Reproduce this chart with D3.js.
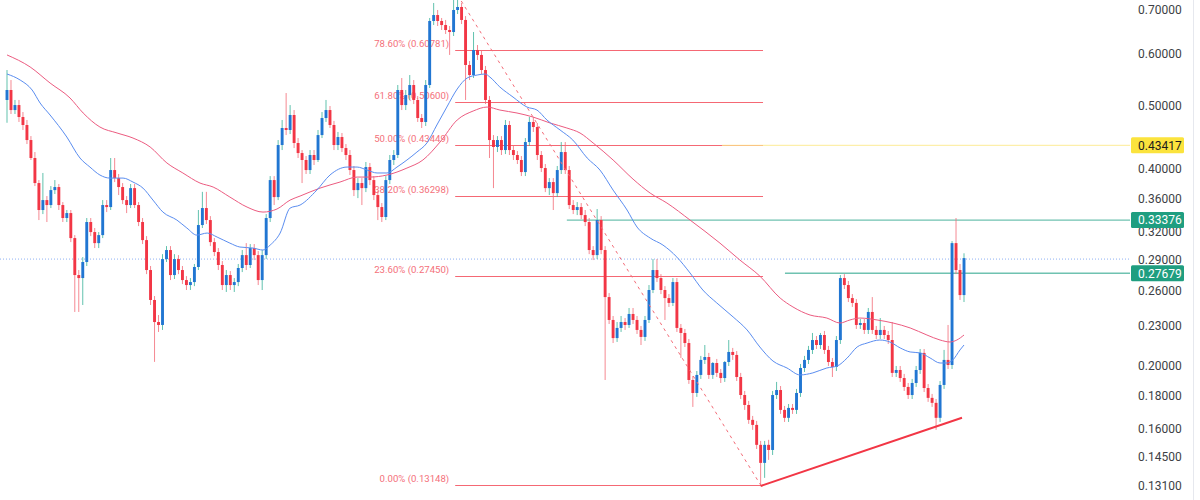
<!DOCTYPE html>
<html><head><meta charset="utf-8">
<script src="https://cdn.jsdelivr.net/npm/d3@7"></script>
<style>html,body{margin:0;padding:0;background:#fff;}svg{display:block;}</style>
</head><body>
<svg id="chart" width="1200" height="500"></svg>
<script>
// ---------------- data ----------------
const open = [.5092,.5274,.4915,.5002,.4796,.4663,.4423,.4152,.3802,.3458,
.3581,.3519,.3709,.3749,.3519,.3362,.3421,.3133,.2751,.2722,
.2880,.3315,.3200,.3078,.3166,.3519,.3494,.3980,.3869,.3749,
.3581,.3519,.3735,.3519,.3315,.3111,.2800,.2520,.2332,.2308,
.2910,.3004,.2751,.2910,.2800,.2703,.2656,.2684,.2830,.3280,
.3482,.3338,.3089,.2983,.2850,.2656,.2751,.2656,.2684,.2820,
.2951,.2850,.3025,.2951,.2703,.2951,.3362,.3842,.3619,.4346,
.4614,.4582,.4830,.4377,.4225,.4123,.3980,.4196,.4123,.4501,
.4779,.4915,.4663,.4346,.4470,.4300,.4196,.3980,.3709,.3802,
.3735,.4022,.3842,.3645,.3494,.3374,.3842,.4123,.4196,.5274,
.5002,.5181,.5367,.5092,.4779,.4713,.5367,.6723,.6865,.6723,
.6628,.6513,.6467,.6988,.7062,.6747,.5759,.5559,.6071,.5966,
.5658,.5092,.4423,.4316,.4423,.4270,.4663,.4270,.4196,.4123,
.3952,.4392,.4713,.4630,.4196,.4008,.3735,.3815,.3670,.3980,
.4240,.3980,.3519,.3458,.3494,.3397,.3315,.3004,.2951,.3338,
.3004,.2546,.2349,.2204,.2284,.2332,.2308,.2399,.2349,.2268,
.2213,.2349,.2610,.2800,.2722,.2610,.2537,.2494,.2684,.2284,
.2244,.2166,.1902,.1817,.1936,.2041,.2062,.1936,.2019,.1950,
.1915,.2026,.2099,.2077,.1922,.1804,.1742,.1653,.1624,.1514,
.1421,.1514,.1487,.1804,.1836,.1712,.1665,.1724,.1712,.1817,
.1984,.2041,.2114,.2189,.2151,.2228,.2114,.2026,.1991,.2189,
.2722,.2656,.2537,.2494,.2308,.2324,.2268,.2416,.2268,.2228,
.2268,.2228,.2189,.1950,.1970,.1915,.1856,.1804,.1882,.1970,
.2092,.1849,.1786,.1755,.1665,.1869,.2041,.2005,.3078,.2800,
.2564];
const high = [.5658,.5462,.5092,.5092,.4881,.4746,.4485,.4240,.3842,.3939,
.3632,.3762,.3842,.3789,.3556,.3458,.3458,.3166,.2800,.2930,
.3362,.3362,.3246,.3200,.3581,.3581,.4152,.4152,.3925,.3802,
.3632,.3789,.3789,.3556,.3362,.3155,.2840,.2555,.2390,.2961,
.3046,.3046,.2961,.2951,.2840,.2741,.2722,.2860,.3458,.3686,
.3686,.3385,.3133,.3025,.2890,.2800,.2790,.2722,.2860,.3004,
.3078,.3068,.3068,.2993,.3004,.3409,.3896,.3896,.4423,.4746,
.5218,.5002,.4915,.4454,.4270,.4181,.4270,.4270,.4582,.4881,
.5092,.4985,.4730,.4550,.4534,.4361,.4270,.4037,.3869,.3869,
.4094,.4080,.3896,.3696,.3544,.3896,.4196,.4270,.5367,.5501,
.5274,.5559,.5462,.5163,.4847,.5462,.6794,.7162,.6988,.6794,
.6747,.6605,.7314,.7365,.7162,.6841,.5840,.6467,.6178,.6071,
.5739,.5163,.4501,.4485,.4485,.4746,.4730,.4331,.4255,.4181,
.4454,.4796,.4796,.4696,.4255,.4065,.3869,.3869,.4037,.4392,
.4392,.4037,.3581,.3556,.3544,.3458,.3362,.3046,.3470,.3385,
.3046,.2582,.2382,.2332,.2382,.2365,.2450,.2450,.2382,.2300,
.2382,.2656,.2910,.2910,.2760,.2646,.2573,.2722,.2722,.2316,
.2276,.2197,.1929,.1963,.2070,.2151,.2092,.2026,.2048,.1977,
.2033,.2189,.2129,.2106,.1950,.1830,.1767,.1676,.1647,.1535,
.1535,.1541,.1830,.1889,.1862,.1736,.1748,.1748,.1843,.2012,
.2070,.2144,.2244,.2220,.2244,.2260,.2144,.2055,.2220,.2751,
.2760,.2694,.2573,.2528,.2357,.2357,.2450,.2546,.2300,.2365,
.2300,.2260,.2332,.1998,.1998,.1943,.1882,.1909,.1998,.2121,
.2121,.1875,.1811,.1779,.1895,.2114,.2308,.3100,.3362,.2860,
.2970];
const low = [.4700,.4847,.4847,.4713,.4582,.4361,.4123,.3762,.3338,.3409,
.3315,.3482,.3658,.3458,.3315,.3315,.3089,.2416,.2416,.2476,
.2840,.3155,.3025,.3025,.3133,.3433,.3458,.3815,.3645,.3531,
.3421,.3482,.3482,.3268,.3068,.2760,.2476,.2027,.2252,.2268,
.2880,.2703,.2713,.2760,.2665,.2610,.2610,.2646,.2800,.3246,
.3292,.3046,.2941,.2800,.2610,.2592,.2610,.2592,.2646,.2780,
.2800,.2820,.2900,.2656,.2610,.2910,.3315,.3519,.3581,.4270,
.4501,.4517,.4300,.4152,.3802,.3925,.3925,.4051,.4094,.4454,
.4713,.4614,.4270,.4270,.4240,.4123,.3911,.3632,.3606,.3519,
.3683,.3775,.3581,.3338,.3315,.3338,.3789,.4051,.4152,.4915,
.4915,.5092,.5020,.4713,.4614,.4647,.5311,.6628,.6605,.6513,
.6422,.5966,.6377,.6890,.6651,.5092,.5462,.5501,.5861,.5579,
.5020,.4152,.3735,.4240,.4196,.4210,.4196,.4123,.4065,.3897,
.3897,.4331,.4550,.4123,.3952,.3683,.3645,.3458,.3619,.3925,
.3925,.3470,.3409,.3397,.3350,.3268,.2961,.2900,.2910,.2961,
.1902,.2316,.2166,.2174,.2252,.2268,.2284,.2316,.2236,.2151,
.2182,.2324,.2582,.2684,.2573,.2349,.2459,.2467,.2252,.2055,
.2136,.1876,.1730,.1792,.1909,.2012,.1909,.1909,.1922,.1882,
.1889,.1998,.2041,.1895,.1779,.1712,.1630,.1596,.1492,.1310,
.1348,.1436,.1461,.1779,.1688,.1641,.1641,.1688,.1688,.1792,
.1956,.2012,.2084,.2121,.2121,.2084,.1998,.1922,.1963,.2159,
.2619,.2502,.2459,.2276,.2276,.2236,.2236,.2236,.2197,.2197,
.2197,.2159,.1922,.1922,.1889,.1830,.1779,.1779,.1856,.1943,
.1823,.1761,.1730,.1596,.1641,.1843,.1977,.1977,.2760,.2520,
.2502];
const close = [.5274,.4915,.5002,.4796,.4663,.4423,.4152,.3802,.3458,.3581,
.3519,.3709,.3749,.3519,.3362,.3421,.3133,.2751,.2722,.2880,
.3315,.3200,.3078,.3166,.3519,.3494,.3980,.3869,.3749,.3581,
.3519,.3735,.3519,.3315,.3111,.2800,.2520,.2332,.2308,.2910,
.3004,.2751,.2910,.2800,.2703,.2656,.2684,.2830,.3280,.3482,
.3338,.3089,.2983,.2850,.2656,.2751,.2656,.2684,.2820,.2951,
.2850,.3025,.2951,.2703,.2951,.3362,.3842,.3619,.4346,.4614,
.4582,.4830,.4377,.4225,.4123,.3980,.4196,.4123,.4501,.4779,
.4915,.4663,.4346,.4470,.4300,.4196,.3980,.3709,.3802,.3735,
.4022,.3842,.3645,.3494,.3374,.3842,.4123,.4196,.5274,.5002,
.5181,.5367,.5092,.4779,.4713,.5367,.6723,.6865,.6723,.6628,
.6513,.6467,.6988,.7062,.6747,.5759,.5559,.6071,.5966,.5658,
.5092,.4423,.4316,.4423,.4270,.4663,.4270,.4196,.4123,.3952,
.4392,.4713,.4630,.4196,.4008,.3735,.3815,.3670,.3980,.4240,
.3980,.3519,.3458,.3494,.3397,.3315,.3004,.2951,.3338,.3004,
.2546,.2349,.2204,.2284,.2332,.2308,.2399,.2349,.2268,.2213,
.2349,.2610,.2800,.2722,.2610,.2537,.2494,.2684,.2284,.2244,
.2166,.1902,.1817,.1936,.2041,.2062,.1936,.2019,.1950,.1915,
.2026,.2099,.2077,.1922,.1804,.1742,.1653,.1624,.1514,.1421,
.1514,.1487,.1804,.1836,.1712,.1665,.1724,.1712,.1817,.1984,
.2041,.2114,.2189,.2151,.2228,.2114,.2026,.1991,.2189,.2722,
.2656,.2537,.2494,.2308,.2324,.2268,.2416,.2268,.2228,.2268,
.2228,.2189,.1950,.1970,.1915,.1856,.1804,.1882,.1970,.2092,
.1849,.1786,.1755,.1665,.1869,.2041,.2005,.3078,.2800,.2564,
.2920];

// moving averages: [candle index, value]
const maFast = [[0,.5579],[3.3,.5462],[6.3,.5274],[8.3,.5038],[10.8,.4830],[15,.4470],[18.3,.4152],[20.8,.4022],[23.3,.3911],[25.8,.3869],[29.1,.3869],[31.6,.3815],[34.1,.3735],[36.6,.3581],[39.1,.3433],[42.6,.3338],[45.1,.3246],[47.6,.3166],[50.2,.3189],[52.7,.3144],[55.9,.3078],[58.4,.3036],[61.7,.3025],[64.2,.3004],[66,.3057],[68.5,.3189],[71,.3482],[73.5,.3519],[77.7,.3709],[81,.3911],[85.3,.4022],[87.8,.4022],[90.3,.3980],[92.8,.3939],[95.3,.3939],[97.8,.4022],[100.3,.4123],[102.8,.4240],[105.3,.4377],[107.8,.4663],[110.3,.4967],[112.9,.5292],[115.4,.5501],[117.9,.5559],[119.9,.5579],[121.1,.5520],[123.6,.5330],[126.9,.5145],[130.4,.4967],[132.9,.4915],[135.4,.4746],[138.7,.4582],[141.9,.4423],[145.5,.4152],[148.7,.3980],[152,.3709],[155.5,.3458],[158,.3257],[161.3,.3133],[164.5,.3057],[168,.2930],[171.3,.2771],[174.5,.2610],[178,.2494],[182.1,.2374],[185.6,.2268],[188.8,.2136],[192.1,.2033],[195.6,.1984],[198.9,.1936],[202.1,.1950],[205.6,.1984],[208.2,.1998],[210.7,.2055],[213.2,.2136],[215.7,.2166],[218.9,.2189],[221.4,.2174],[224,.2129],[226.5,.2099],[229,.2092],[231.5,.2055],[234,.2019],[235.7,.2019],[237.2,.2041],[239,.2114],[240,.2151]];
const maSlow = [[0,.5966],[5.8,.5719],[10.8,.5405],[15.8,.5128],[19.1,.4864],[23.3,.4630],[27.6,.4534],[31.6,.4454],[35.9,.4316],[40.1,.4080],[44.1,.3939],[48.4,.3802],[51.7,.3749],[55.9,.3619],[60.2,.3494],[64.2,.3433],[67.7,.3470],[71,.3581],[73.5,.3632],[78.5,.3735],[83.5,.3815],[87.8,.3883],[91,.3883],[95.3,.3911],[100.3,.4008],[104.3,.4123],[108.6,.4392],[112.9,.4746],[116.9,.4898],[120.4,.4967],[123.6,.4915],[127.9,.4864],[131.9,.4796],[136.2,.4696],[140.4,.4614],[143.7,.4534],[147,.4377],[152,.4123],[157,.3855],[161.3,.3670],[165.5,.3544],[171.3,.3338],[178.8,.3078],[183.8,.2900],[188.8,.2741],[193.9,.2537],[197.1,.2459],[201.4,.2390],[205.6,.2365],[208.9,.2324],[211.4,.2349],[213.9,.2365],[218.2,.2349],[222.2,.2324],[226.5,.2284],[230.7,.2228],[234,.2189],[236.5,.2174],[238.2,.2189],[240,.2228]];

const yTicks = [0.70, 0.60, 0.50, 0.40, 0.36, 0.32, 0.29, 0.26, 0.23, 0.20, 0.18, 0.16, 0.145, 0.131];
const fibNames  = ["78.60%", "61.80%", "50.00%", "38.20%", "23.60%", "0.00%"];
const fibValues = [0.60781, 0.50600, 0.43449, 0.36298, 0.27450, 0.13148];
const fibFrom = 112.4, fibTo = 189.6;           // candle index span of the fib lines
const fibSwing = [[113, 0.7365], [189, 0.13148]]; // dashed swing line
const trendLine = [[189, 0.1310], [239.5, 0.1665]];
const levelValues = [0.43417, 0.33376, 0.27679];
const levelFrom   = [179.3, 140.4, 195.1];
const levelKinds  = ["yellow", "green", "green"];
const lastPrice = 0.2910;

// ---------------- drawing ----------------
const W = 1200, H = 500, plotRight = 1130;
const svg = d3.select("#chart");
const n = close.length;
const x = d3.scaleLinear().domain([0, n - 1]).range([7, 964]);
const y = d3.scaleLog().domain([0.131, 0.70]).range([486, 9.5]);

svg.append("rect").attr("width", W).attr("height", H).attr("fill", "#ffffff");
svg.append("line").attr("x1", 1193.5).attr("x2", 1193.5).attr("y1", 0).attr("y2", H)
  .attr("stroke", "#e6e8ee").attr("stroke-width", 1);

// last price dotted line
svg.append("line").attr("x1", 0).attr("x2", plotRight)
  .attr("y1", y(lastPrice)).attr("y2", y(lastPrice))
  .attr("stroke", "#8fb0f3").attr("stroke-width", 1).attr("stroke-dasharray", "1,2");

// fib levels
const fib = svg.append("g");
fibValues.forEach((v, k) => {
  const yy = Math.round(y(v)) + 0.5;
  fib.append("line").attr("x1", x(fibFrom)).attr("x2", x(fibTo)).attr("y1", yy).attr("y2", yy)
    .attr("stroke", "#f23645").attr("stroke-opacity", 0.75).attr("stroke-width", 1);
  fib.append("text").attr("x", x(fibFrom) - 6).attr("y", yy - 3.5)
    .attr("text-anchor", "end").attr("font-family", "Roboto, 'Noto Sans', sans-serif")
    .attr("font-size", 9.6).attr("fill", "#f4707a")
    .text(`${fibNames[k]} (${v.toFixed(5)})`);
});

// horizontal levels
levelValues.forEach((v, k) => {
  const yy = y(v);
  svg.append("line").attr("x1", x(levelFrom[k])).attr("x2", plotRight).attr("y1", yy).attr("y2", yy)
    .attr("stroke", levelKinds[k] === "yellow" ? "#fde98a" : "#3fae97")
    .attr("stroke-opacity", levelKinds[k] === "yellow" ? 0.9 : 0.75)
    .attr("stroke-width", levelKinds[k] === "yellow" ? 1 : 1.4);
});

// candles
const idx = d3.range(n);
const bw = 2.9;
const cg = svg.append("g");
cg.selectAll("line.wick").data(idx).join("line")
  .attr("x1", i => x(i)).attr("x2", i => x(i))
  .attr("y1", i => y(high[i])).attr("y2", i => y(low[i]))
  .attr("stroke", i => close[i] >= open[i] ? "#3bb39a" : "#f36b77")
  .attr("stroke-opacity", 0.8).attr("stroke-width", 1);
cg.selectAll("rect.body").data(idx).join("rect")
  .attr("x", i => x(i) - bw / 2)
  .attr("y", i => y(Math.max(open[i], close[i])))
  .attr("width", bw)
  .attr("height", i => Math.max(1, Math.abs(y(open[i]) - y(close[i]))))
  .attr("fill", i => close[i] >= open[i] ? "#2176d2" : "#f23645");

// moving averages
const ma = d3.line().x(d => x(d[0])).y(d => y(d[1])).curve(d3.curveMonotoneX);
svg.append("path").datum(maSlow).attr("d", ma).attr("fill", "none")
  .attr("stroke", "#ec5b80").attr("stroke-width", 1);
svg.append("path").datum(maFast).attr("d", ma).attr("fill", "none")
  .attr("stroke", "#5a8df0").attr("stroke-width", 1);

// fib swing dashed line & trend line
const ln = d3.line().x(d => x(d[0])).y(d => y(d[1]));
svg.append("path").datum(fibSwing).attr("d", ln).attr("fill", "none")
  .attr("stroke", "#f36b77").attr("stroke-width", 1).attr("stroke-dasharray", "3,4");
svg.append("path").datum(trendLine).attr("d", ln).attr("fill", "none")
  .attr("stroke", "#f23645").attr("stroke-width", 2);

// right price axis
const ax = svg.append("g").attr("transform", `translate(${plotRight},0)`)
  .call(d3.axisRight(y).tickValues(yTicks).tickFormat(d3.format(".5f")).tickSize(0).tickPadding(8));
ax.select(".domain").remove();
ax.selectAll("text").attr("font-family", "Roboto, 'Noto Sans', sans-serif")
  .attr("font-size", 12).attr("fill", "#3d3f45");

// price labels
levelValues.forEach((v, k) => {
  const yy = y(v);
  const g = svg.append("g");
  g.append("rect").attr("x", plotRight + 1).attr("y", yy - 8).attr("width", 53).attr("height", 16)
    .attr("rx", 1.5).attr("fill", levelKinds[k] === "yellow" ? "#fbe33d" : "#1f9e80");
  g.append("text").attr("x", plotRight + 8).attr("y", yy).attr("dy", "0.35em")
    .attr("font-family", "Roboto, 'Noto Sans', sans-serif").attr("font-size", 12)
    .attr("fill", levelKinds[k] === "yellow" ? "#1c1c1c" : "#ffffff").text(v.toFixed(5));
});
</script>
</body></html>
